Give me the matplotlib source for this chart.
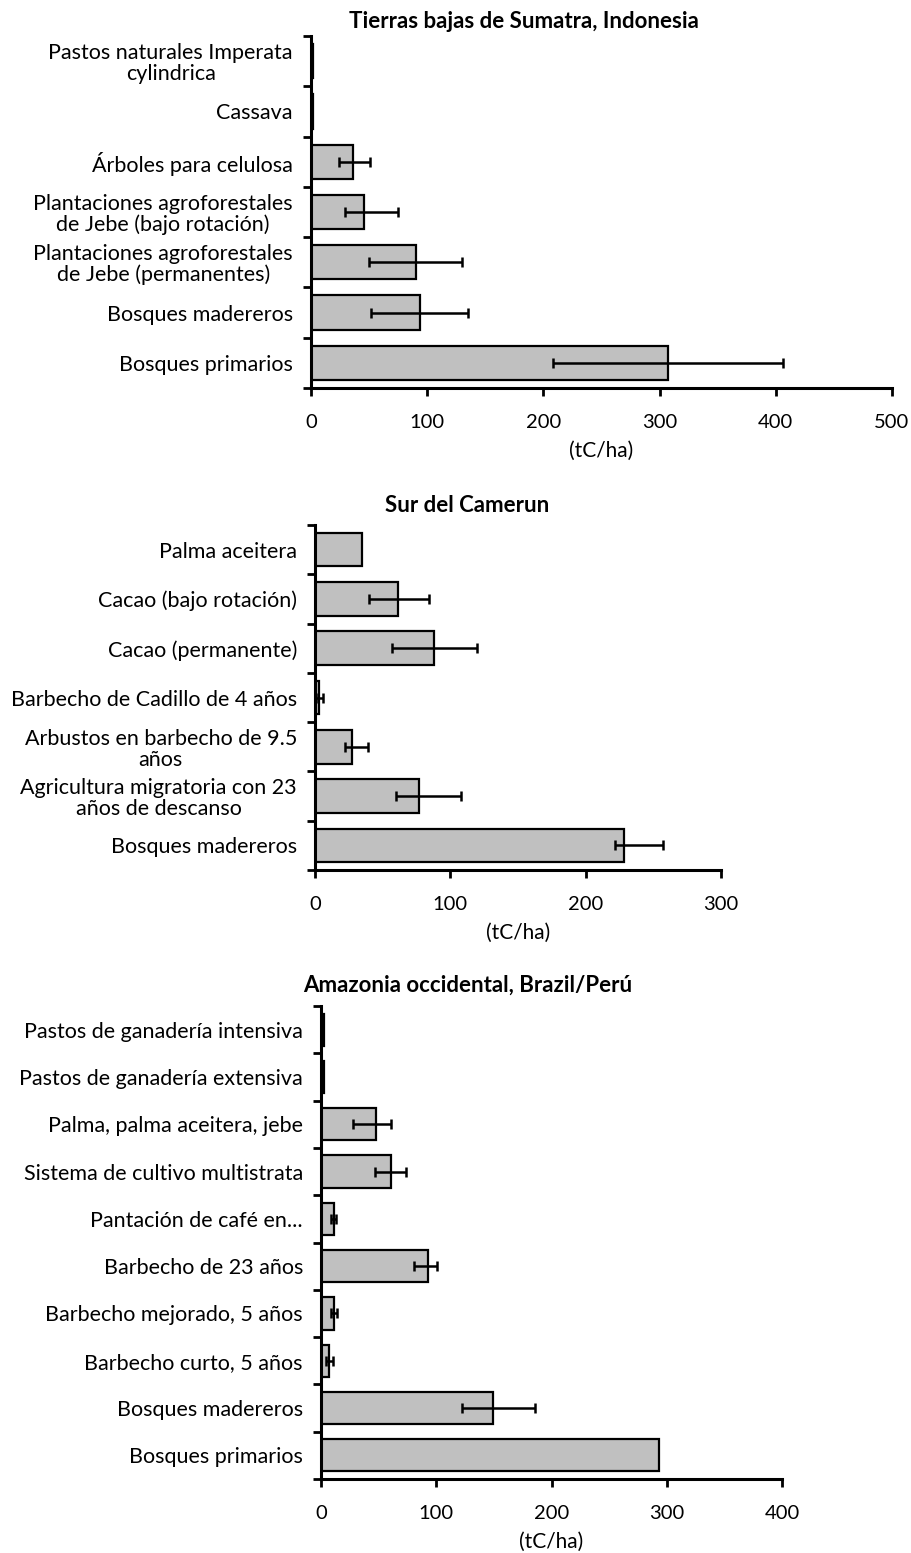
import numpy as np
import matplotlib
matplotlib.use("Agg")
import matplotlib.pyplot as plt

plt.rcParams['font.family'] = ['Lato', 'DejaVu Sans']

nan = np.nan

# Panel 1: Sumatra
cats_1 = ["Pastos naturales Imperata\ncylindrica", "Cassava", "Árboles para celulosa",
          "Plantaciones agroforestales\nde Jebe (bajo rotación)",
          "Plantaciones agroforestales\nde Jebe (permanentes)",
          "Bosques madereros", "Bosques primarios"]
vals_1 = [2, 2, 36, 46, 90, 94, 307]
err_lo_1 = [nan, nan, 12, 17, 40, 42, 99]
err_hi_1 = [nan, nan, 15, 29, 40, 41, 99]

# Panel 2: Camerun
cats_2 = ["Palma aceitera", "Cacao (bajo rotación)", "Cacao (permanente)",
          "Barbecho de Cadillo de 4 años", "Arbustos en barbecho de 9.5\naños",
          "Agricultura migratoria con 23\naños de descanso", "Bosques madereros"]
vals_2 = [35, 61, 88, 3, 27, 77, 228]
err_lo_2 = [nan, 21, 31, 2, 5, 17, 6]
err_hi_2 = [nan, 23, 32, 3, 12, 31, 29]

# Panel 3: Amazonia
cats_3 = ["Pastos de ganadería intensiva", "Pastos de ganadería extensiva",
          "Palma, palma aceitera, jebe", "Sistema de cultivo multistrata",
          "Pantación de café en...", "Barbecho de 23 años",
          "Barbecho mejorado, 5 años", "Barbecho curto, 5 años",
          "Bosques madereros", "Bosques primarios"]
vals_3 = [3, 3, 48, 61, 11, 93, 11, 7, 149, 293]
err_lo_3 = [nan, nan, 20, 14, 2, 12, 2, 3, 27, nan]
err_hi_3 = [nan, nan, 13, 13, 2, 8, 3, 3, 37, nan]

W, H = 912, 1553
fig = plt.figure(figsize=(W / 100, H / 100), dpi=100)


def px_axes(left, top, right, bottom):
    return fig.add_axes([left / W, 1 - bottom / H, (right - left) / W, (bottom - top) / H])


def panel(ax, cats, vals, lo, hi, xmax, title, title_x, title_y):
    n = len(cats)
    y = np.arange(n)
    ax.barh(y, vals, height=0.68, color='#c0c0c0', edgecolor='black', linewidth=1.6, zorder=2)
    ax.errorbar(vals, y, xerr=[lo, hi], fmt='none', ecolor='black', elinewidth=1.8,
                capsize=3.5, capthick=1.8, zorder=3)
    ax.set_ylim(n - 0.5, -0.5)
    ax.set_xlim(0, xmax)
    ax.set_yticks(y)
    ax.set_yticklabels(cats, fontsize=15.5, multialignment='center', linespacing=1.05)
    ax.tick_params(axis='y', which='major', length=0, pad=13)
    ax.set_yticks(np.arange(-0.5, n), minor=True)
    ax.tick_params(axis='y', which='minor', length=6, width=2, direction='out')
    ax.set_xticks(np.arange(0, xmax + 1, 100))
    ax.tick_params(axis='x', length=6, width=2, direction='out', labelsize=14.5, pad=13)
    for s in ['top', 'right']:
        ax.spines[s].set_visible(False)
    for s in ['left', 'bottom']:
        ax.spines[s].set_linewidth(2.2)
    ax.set_xlabel("(tC/ha)", fontsize=15, labelpad=7)
    fig.text(title_x / W, 1 - title_y / H, title, ha='center', va='center',
             fontsize=16, fontweight='bold')


ax1 = px_axes(311, 36, 892, 388)
panel(ax1, cats_1, vals_1, err_lo_1, err_hi_1, 500, "Tierras bajas de Sumatra, Indonesia", 524, 21)

ax2 = px_axes(315, 525, 721, 870)
panel(ax2, cats_2, vals_2, err_lo_2, err_hi_2, 300, "Sur del Camerun", 467, 506)

ax3 = px_axes(321, 1006, 782, 1479)
panel(ax3, cats_3, vals_3, err_lo_3, err_hi_3, 400, "Amazonia occidental, Brazil/Perú", 468, 985)

fig.savefig("out.png", dpi=100)
